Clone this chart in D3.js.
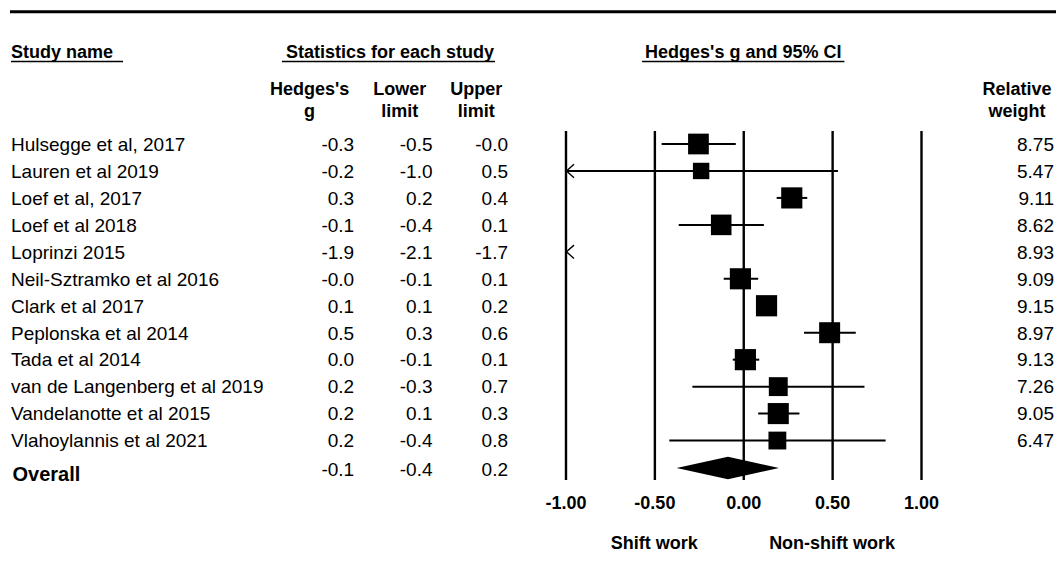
<!DOCTYPE html>
<html>
<head>
<meta charset="utf-8">
<script src="https://cdn.jsdelivr.net/npm/d3@7"></script>
<style>
  html, body { margin: 0; padding: 0; background: #fff; }
  svg { display: block; }
  text { font-family: "Liberation Sans", Arial, sans-serif; fill: #000; }
</style>
</head>
<body>
<svg id="chart" width="1056" height="581"></svg>
<script>
// ---- data ----
const studies = [
  "Hulsegge et al, 2017",
  "Lauren et al 2019",
  "Loef et al, 2017",
  "Loef et al 2018",
  "Loprinzi 2015",
  "Neil-Sztramko et al 2016",
  "Clark et al 2017",
  "Peplonska et al 2014",
  "Tada et al 2014",
  "van de Langenberg et al 2019",
  "Vandelanotte et al 2015",
  "Vlahoylannis et al 2021"
];
const hedgesG = [-0.252, -0.237, 0.273, -0.124, -1.9, -0.016, 0.131, 0.486, 0.012, 0.197, 0.197, 0.192];
const lowerLimit = [-0.459, -1.04, 0.188, -0.363, -2.1, -0.11, 0.08, 0.342, -0.059, -0.286, 0.084, -0.416];
const upperLimit = [-0.042, 0.533, 0.36, 0.116, -1.7, 0.084, 0.18, 0.633, 0.09, 0.682, 0.316, 0.801];
const relWeight = ["8.75", "5.47", "9.11", "8.62", "8.93", "9.09", "9.15", "8.97", "9.13", "7.26", "9.05", "6.47"];
const overallG = -0.086;
const overallLower = -0.375;
const overallUpper = 0.201;
const axisTicks = [-1, -0.5, 0, 0.5, 1];
const effectLabels = ["Shift work", "Non-shift work"];

// ---- layout ----
const svg = d3.select("#chart");
const W = 1056;
const x = d3.scaleLinear().domain([-1, 1]).range([565.5, 921]);
const rowY = d3.scaleLinear().domain([0, 12]).range([144, 467.5]);
const side = d3.scaleSqrt().domain([0, 9.15]).range([0, 21.2]);
const plotTop = 131, plotBottom = 480;

// top rule
svg.append("line").attr("x1", 10).attr("x2", W).attr("y1", 11.7).attr("y2", 11.7)
  .attr("stroke", "#000").attr("stroke-width", 3);

// underlined section headers
function header(txt, xPos, anchor, padL, padR) {
  const t = svg.append("text").attr("x", xPos).attr("y", 57.5)
    .attr("text-anchor", anchor).style("font-weight", "bold").style("font-size", "18px").text(txt);
  const bb = t.node().getBBox();
  svg.append("line").attr("x1", bb.x - padL).attr("x2", bb.x + bb.width + padR)
    .attr("y1", 61.5).attr("y2", 61.5).attr("stroke", "#000").attr("stroke-width", 1.5);
}
header("Study name", 11, "start", 0, 10);
header("Statistics for each study", 390, "middle", 4, 1);
header("Hedges's g and 95% CI", x(0), "middle", 3, 3);

// column headers
const colHeads = [
  {l1: "Hedges's", l2: "g", cx: 309.6},
  {l1: "Lower", l2: "limit", cx: 399.7},
  {l1: "Upper", l2: "limit", cx: 476.3},
  {l1: "Relative", l2: "weight", cx: 1017}
];
colHeads.forEach(h => {
  svg.append("text").attr("x", h.cx).attr("y", 95.3).attr("text-anchor", "middle")
    .style("font-weight", "bold").style("font-size", "18px").text(h.l1);
  svg.append("text").attr("x", h.cx).attr("y", 116.6).attr("text-anchor", "middle")
    .style("font-weight", "bold").style("font-size", "18px").text(h.l2);
});

// table rows
const colRight = [354.2, 432.5, 508];
const bodySize = "19px";
studies.forEach((s, i) => {
  const yb = rowY(i) + 6.8;
  svg.append("text").attr("x", 11).attr("y", yb).style("font-size", bodySize).text(s);
  [hedgesG[i], lowerLimit[i], upperLimit[i]].forEach((v, j) => {
    svg.append("text").attr("x", colRight[j]).attr("y", yb).attr("text-anchor", "end")
      .style("font-size", bodySize).text(v.toFixed(1));
  });
  svg.append("text").attr("x", 1054).attr("y", yb).attr("text-anchor", "end")
    .style("font-size", bodySize).text(relWeight[i]);
});
// overall row
svg.append("text").attr("x", 12.5).attr("y", 481).style("font-weight", "bold")
  .style("font-size", "20px").text("Overall");
[overallG, overallLower, overallUpper].forEach((v, j) => {
  svg.append("text").attr("x", colRight[j]).attr("y", 475.5).attr("text-anchor", "end")
    .style("font-size", bodySize).text(v.toFixed(1));
});

// axis with full-height vertical reference lines
const axis = d3.axisBottom(x).tickValues(axisTicks)
  .tickSize(-(plotBottom - plotTop)).tickFormat(d => d.toFixed(2));
const ag = svg.append("g").attr("transform", `translate(0,${plotBottom})`).call(axis);
ag.select(".domain").remove();
ag.selectAll(".tick line").attr("stroke", "#000").attr("stroke-width", 2.4);
ag.selectAll(".tick text").attr("y", 28.5).attr("dy", 0)
  .attr("fill", "#000")
  .style("font-family", "\"Liberation Sans\", Arial, sans-serif")
  .style("font-weight", "bold").style("font-size", "18px");

// effect direction labels
svg.append("text").attr("x", x(-0.5)).attr("y", 549).attr("text-anchor", "middle")
  .style("font-weight", "bold").style("font-size", "18px").text(effectLabels[0]);
svg.append("text").attr("x", x(0.5)).attr("y", 549).attr("text-anchor", "middle")
  .style("font-weight", "bold").style("font-size", "18px").text(effectLabels[1]);

// study markers
const [dMin, dMax] = x.domain();
const marks = svg.append("g");
function arrowLeft(cy) {
  const tip = x(dMin) + 1;
  marks.append("path")
    .attr("d", `M${tip + 7.5},${cy - 6.7} L${tip},${cy} L${tip + 7.5},${cy + 6.7}`)
    .attr("fill", "none").attr("stroke", "#000").attr("stroke-width", 1.4);
}
studies.forEach((s, i) => {
  const cy = rowY(i);
  const lo = lowerLimit[i], hi = upperLimit[i], g = hedgesG[i];
  if (hi >= dMin && lo <= dMax) {
    marks.append("line")
      .attr("x1", x(Math.max(lo, dMin))).attr("x2", x(Math.min(hi, dMax)))
      .attr("y1", cy).attr("y2", cy).attr("stroke", "#000").attr("stroke-width", 2);
  }
  if (lo < dMin) arrowLeft(cy);
  if (g >= dMin && g <= dMax) {
    const sz = side(+relWeight[i]);
    marks.append("rect").attr("x", x(g) - sz / 2).attr("y", cy - sz / 2)
      .attr("width", sz).attr("height", sz).attr("fill", "#000");
  }
});

// overall diamond
const oy = rowY(12) + 0.5;
const dh = 11.2;
marks.append("path")
  .attr("d", `M${x(overallLower)},${oy} L${x(overallG)},${oy - dh} L${x(overallUpper)},${oy} L${x(overallG)},${oy + dh} Z`)
  .attr("fill", "#000");
</script>
</body>
</html>
